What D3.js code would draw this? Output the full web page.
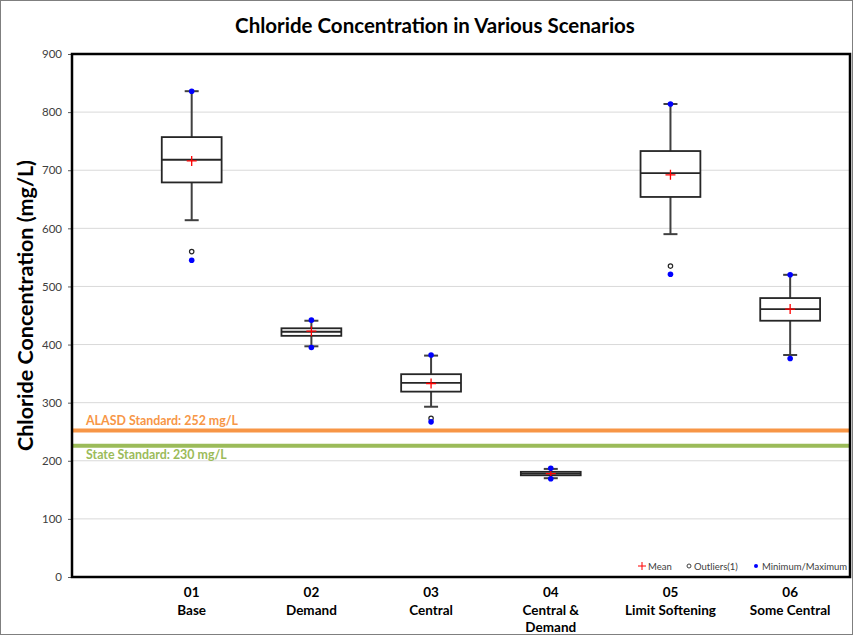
<!DOCTYPE html>
<html>
<head>
<meta charset="utf-8">
<script src="https://cdn.jsdelivr.net/npm/d3@7"></script>
<style>
  body { margin: 0; background: #fff; }
  text { font-family: Lato, "Open Sans", sans-serif; }
</style>
</head>
<body>
<div id="chart"></div>
<script>
var svgWidth = 853;
var svgHeight = 635;

var margin = { top: 54, right: 3, bottom: 58, left: 72 };
var width = svgWidth - margin.left - margin.right;
var height = svgHeight - margin.top - margin.bottom;

// Data
var scenarioCodes = ["01", "02", "03", "04", "05", "06"];
var scenarioNames = [["Base"], ["Demand"], ["Central"], ["Central &", "Demand"], ["Limit Softening"], ["Some Central"]];
var whiskerLow = [614, 397, 293, 170, 590, 382];
var q1 = [679, 415, 319, 175, 654, 441];
var median = [718, 422, 334, 178, 695, 461];
var q3 = [757, 428, 349, 181, 733, 480];
var whiskerHigh = [836, 441, 381, 186, 814, 520];
var means = [716, 423, 333, 178, 692, 461];
var minima = [545, 395, 267, 169, 521, 376];
var maxima = [836, 442, 382, 187, 814, 520];
var outliers = [[560], [], [273], [], [535], []];

var standardNames = ["ALASD Standard: 252 mg/L", "State Standard: 230 mg/L"];
var standardValues = [252, 226];
var standardColors = ["#F79646", "#9BBB59"];

var yTicks = [0, 100, 200, 300, 400, 500, 600, 700, 800, 900];

var svg = d3.select("#chart")
  .append("svg")
  .attr("width", svgWidth)
  .attr("height", svgHeight);

// outer chart border
svg.append("rect")
  .attr("x", 0.5).attr("y", 0.5)
  .attr("width", svgWidth - 1).attr("height", svgHeight - 1)
  .attr("fill", "#fff")
  .attr("stroke", "#7f7f7f");

svg.append("text")
  .attr("x", 435)
  .attr("y", 33)
  .attr("text-anchor", "middle")
  .style("font-size", "20.5px")
  .style("font-weight", "bold")
  .text("Chloride Concentration in Various Scenarios");

var chartGroup = svg.append("g")
  .attr("transform", `translate(${margin.left}, ${margin.top})`);

var yScale = d3.scaleLinear().domain([0, 900]).range([height, 0]);
var xScale = d3.scaleLinear().domain([0, 6.5]).range([0, width]);

// grid
chartGroup.append("g")
  .selectAll("line")
  .data(yTicks)
  .enter()
  .append("line")
  .attr("x1", 0).attr("x2", width)
  .attr("y1", d => yScale(d)).attr("y2", d => yScale(d))
  .attr("stroke", "#d9d9d9")
  .attr("stroke-width", 1);

// y axis
var leftAxis = d3.axisLeft(yScale).tickValues(yTicks).tickSize(4).tickPadding(6);
var yAxis = chartGroup.append("g").call(leftAxis);
yAxis.select(".domain").remove();
yAxis.selectAll("line").attr("stroke", "#595959");
yAxis.selectAll("text")
  .style("font-size", "11.5px")
  .style("font-family", "Lato, sans-serif")
  .attr("fill", "#404040");

chartGroup.append("text")
  .attr("transform", "rotate(-90)")
  .attr("x", -(height / 2) + 10)
  .attr("y", -margin.left + 33)
  .attr("text-anchor", "middle")
  .style("font-size", "21.5px")
  .style("font-weight", "bold")
  .text("Chloride Concentration (mg/L)");

// standard lines
var stdGroup = chartGroup.append("g");
stdGroup.selectAll("line")
  .data(standardValues)
  .enter()
  .append("line")
  .attr("x1", 0).attr("x2", width)
  .attr("y1", d => yScale(d)).attr("y2", d => yScale(d))
  .attr("stroke", (d, i) => standardColors[i])
  .attr("stroke-width", 4);

stdGroup.selectAll("text")
  .data(standardNames)
  .enter()
  .append("text")
  .attr("x", 14)
  .attr("y", (d, i) => i === 0 ? yScale(standardValues[i]) - 6 : yScale(standardValues[i]) + 13)
  .attr("fill", (d, i) => standardColors[i])
  .style("font-size", "12.4px")
  .style("font-weight", "bold")
  .text(d => d);

// boxes
var idx = d3.range(scenarioCodes.length);
var boxHalf = xScale(0.25) - xScale(0);
var capHalf = 7;

var boxes = chartGroup.append("g").selectAll("g")
  .data(idx)
  .enter()
  .append("g");

boxes.append("line")
  .attr("x1", i => xScale(i + 1)).attr("x2", i => xScale(i + 1))
  .attr("y1", i => yScale(whiskerHigh[i])).attr("y2", i => yScale(q3[i]))
  .attr("stroke", "#404040").attr("stroke-width", 2);
boxes.append("line")
  .attr("x1", i => xScale(i + 1)).attr("x2", i => xScale(i + 1))
  .attr("y1", i => yScale(q1[i])).attr("y2", i => yScale(whiskerLow[i]))
  .attr("stroke", "#404040").attr("stroke-width", 2);
boxes.append("line")
  .attr("x1", i => xScale(i + 1) - capHalf).attr("x2", i => xScale(i + 1) + capHalf)
  .attr("y1", i => yScale(whiskerHigh[i])).attr("y2", i => yScale(whiskerHigh[i]))
  .attr("stroke", "#404040").attr("stroke-width", 2);
boxes.append("line")
  .attr("x1", i => xScale(i + 1) - capHalf).attr("x2", i => xScale(i + 1) + capHalf)
  .attr("y1", i => yScale(whiskerLow[i])).attr("y2", i => yScale(whiskerLow[i]))
  .attr("stroke", "#404040").attr("stroke-width", 2);

boxes.append("rect")
  .attr("x", i => xScale(i + 1) - boxHalf)
  .attr("y", i => yScale(q3[i]))
  .attr("width", boxHalf * 2)
  .attr("height", i => yScale(q1[i]) - yScale(q3[i]))
  .attr("fill", "#fff")
  .attr("stroke", "#262626")
  .attr("stroke-width", 1.8);
boxes.append("line")
  .attr("x1", i => xScale(i + 1) - boxHalf).attr("x2", i => xScale(i + 1) + boxHalf)
  .attr("y1", i => yScale(median[i])).attr("y2", i => yScale(median[i]))
  .attr("stroke", "#262626").attr("stroke-width", 1.8);

// mean crosses
boxes.append("path")
  .attr("d", i => {
    var x = xScale(i + 1), y = yScale(means[i]);
    return `M${x - 5},${y}H${x + 5}M${x},${y - 5}V${y + 5}`;
  })
  .attr("stroke", "#ff0000").attr("stroke-width", 1.3).attr("fill", "none");

// outliers
boxes.selectAll("circle.out")
  .data(i => outliers[i].map(v => ({ i: i, v: v })))
  .enter()
  .append("circle")
  .attr("class", "out")
  .attr("cx", d => xScale(d.i + 1))
  .attr("cy", d => yScale(d.v))
  .attr("r", 2.2)
  .attr("fill", "#fff")
  .attr("stroke", "#262626")
  .attr("stroke-width", 1.2);

// min / max
boxes.append("circle")
  .attr("cx", i => xScale(i + 1)).attr("cy", i => yScale(minima[i]))
  .attr("r", 2.8).attr("fill", "#0000ff");
boxes.append("circle")
  .attr("cx", i => xScale(i + 1)).attr("cy", i => yScale(maxima[i]))
  .attr("r", 2.8).attr("fill", "#0000ff");

// plot frame
chartGroup.append("rect")
  .attr("x", 0).attr("y", 0)
  .attr("width", width).attr("height", height)
  .attr("fill", "none")
  .attr("stroke", "#000")
  .attr("stroke-width", 2.5);

// x labels
var xLabels = chartGroup.append("g").selectAll("text")
  .data(idx)
  .enter()
  .append("text")
  .attr("x", i => xScale(i + 1))
  .attr("y", height + 20)
  .attr("text-anchor", "middle")
  .style("font-size", "13.5px")
  .style("font-weight", "bold");
xLabels.selectAll("tspan")
  .data(i => [scenarioCodes[i]].concat(scenarioNames[i]))
  .enter()
  .append("tspan")
  .attr("x", function() { return d3.select(this.parentNode).attr("x"); })
  .attr("dy", (d, k) => k === 0 ? 0 : 17.5)
  .text(d => d);

// legend
var legend = chartGroup.append("g").attr("transform", `translate(0, ${height - 11})`);
legend.append("path")
  .attr("d", "M566,0H574M570,-4V4")
  .attr("stroke", "#ff0000").attr("stroke-width", 1);
legend.append("text").attr("x", 576).attr("y", 3.5).style("font-size", "9.5px").attr("fill", "#404040").text("Mean");
legend.append("circle").attr("cx", 617).attr("cy", 0).attr("r", 2).attr("fill", "#fff").attr("stroke", "#404040");
legend.append("text").attr("x", 622).attr("y", 3.5).style("font-size", "9.5px").attr("fill", "#404040").text("Outliers(1)");
legend.append("circle").attr("cx", 684).attr("cy", 0).attr("r", 2).attr("fill", "#0000ff");
legend.append("text").attr("x", 690).attr("y", 3.5).style("font-size", "9.5px").attr("fill", "#404040").text("Minimum/Maximum");
</script>
</body>
</html>
